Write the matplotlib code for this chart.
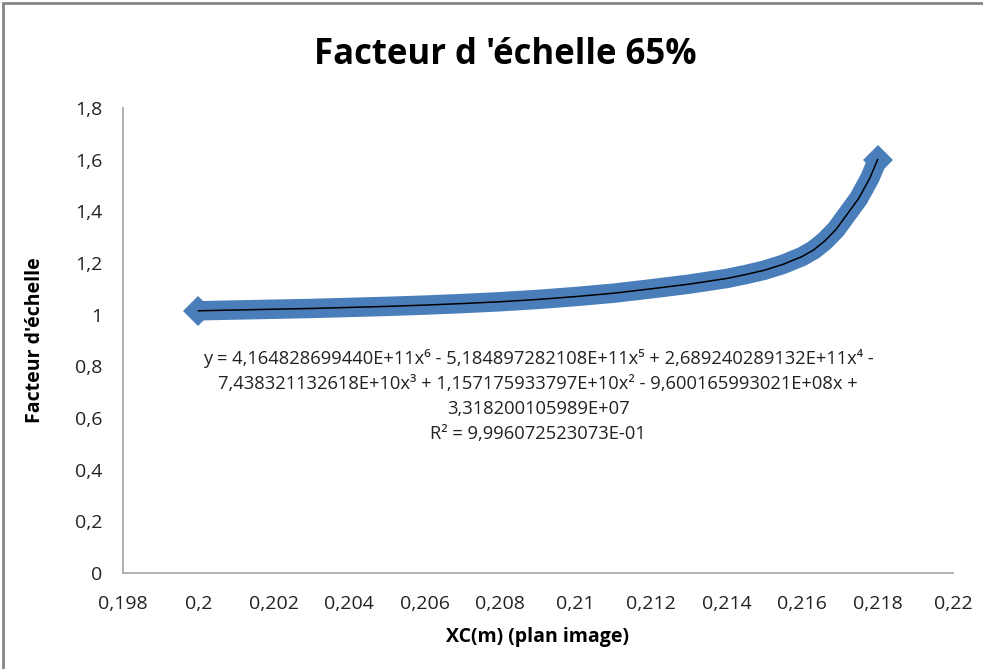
import matplotlib
matplotlib.use("Agg")
import matplotlib.pyplot as plt
from matplotlib.ticker import FuncFormatter
from matplotlib.patches import Rectangle

plt.rcParams['font.family'] = ['Open Sans', 'DejaVu Sans']

# values
xc = [0.200, 0.201, 0.202, 0.203, 0.204, 0.205, 0.206, 0.207, 0.208, 0.209,
      0.210, 0.211, 0.212, 0.213, 0.214, 0.2145, 0.215, 0.2155, 0.216,
      0.2163, 0.2166, 0.2169, 0.2172, 0.2175, 0.2178, 0.218]
facteur = [1.015, 1.018, 1.021, 1.024, 1.028, 1.032, 1.037, 1.043, 1.05, 1.059,
           1.07, 1.083, 1.10, 1.118, 1.14, 1.155, 1.172, 1.195, 1.225,
           1.25, 1.285, 1.33, 1.39, 1.45, 1.53, 1.60]

x_ticks = [0.198, 0.2, 0.202, 0.204, 0.206, 0.208, 0.21, 0.212, 0.214, 0.216, 0.218, 0.22]
y_ticks = [0, 0.2, 0.4, 0.6, 0.8, 1.0, 1.2, 1.4, 1.6, 1.8]

titre = "Facteur d 'échelle 65%"
equation = ("y = 4,164828699440E+11x⁶ - 5,184897282108E+11x⁵ + 2,689240289132E+11x⁴ -\n"
            "7,438321132618E+10x³ + 1,157175933797E+10x² - 9,600165993021E+08x +\n"
            "3,318200105989E+07\n"
            "R² = 9,996072523073E-01")

fig = plt.figure(figsize=(9.83, 6.69), dpi=100)
ax = fig.add_axes([0.1251, 0.1435, 0.8444, 0.6951])

blue = '#4A7EBB'
ax.plot(xc, facteur, color=blue, lw=14, solid_capstyle='butt', solid_joinstyle='round',
        marker='D', markersize=15, markevery=[0, len(xc) - 1], markeredgewidth=0, zorder=2)
# trend line
ax.plot(xc, facteur, color='black', lw=1.1, solid_joinstyle='round', zorder=3)

ax.set_xlim(0.198, 0.22)
ax.set_ylim(0, 1.8)
ax.set_xticks(x_ticks)
ax.set_yticks(y_ticks)

def virgule(v, pos):
    return ('%g' % round(v, 4)).replace('.', ',')

ax.xaxis.set_major_formatter(FuncFormatter(virgule))
ax.yaxis.set_major_formatter(FuncFormatter(virgule))
ax.tick_params(axis='x', length=0, pad=16, labelsize=14, colors='#222222')
ax.tick_params(axis='y', length=0, pad=15, labelsize=14, colors='#222222')

for s in ['top', 'right']:
    ax.spines[s].set_visible(False)
for s in ['left', 'bottom']:
    ax.spines[s].set_color('#AAAAAA')
    ax.spines[s].set_linewidth(1.3)

ax.set_xlabel("XC(m) (plan image)", fontsize=14, fontweight='bold', labelpad=10)
ax.set_ylabel("Facteur d'échelle", fontsize=14, fontweight='bold', labelpad=21)

fig.text(0.514, 0.918, titre, fontsize=25, fontweight='bold', ha='center', va='center')

ax.text(0.2090, 0.867, equation, fontsize=13.2, ha='center', va='top',
        multialignment='center', linespacing=1.5, color='#222222', zorder=4)

fig.patches.append(Rectangle((3 / 983, -0.1), 1.2, 1.1 - 3 / 669, transform=fig.transFigure,
                             fill=False, edgecolor='#868686', lw=2))

fig.savefig('out.png', dpi=100)
